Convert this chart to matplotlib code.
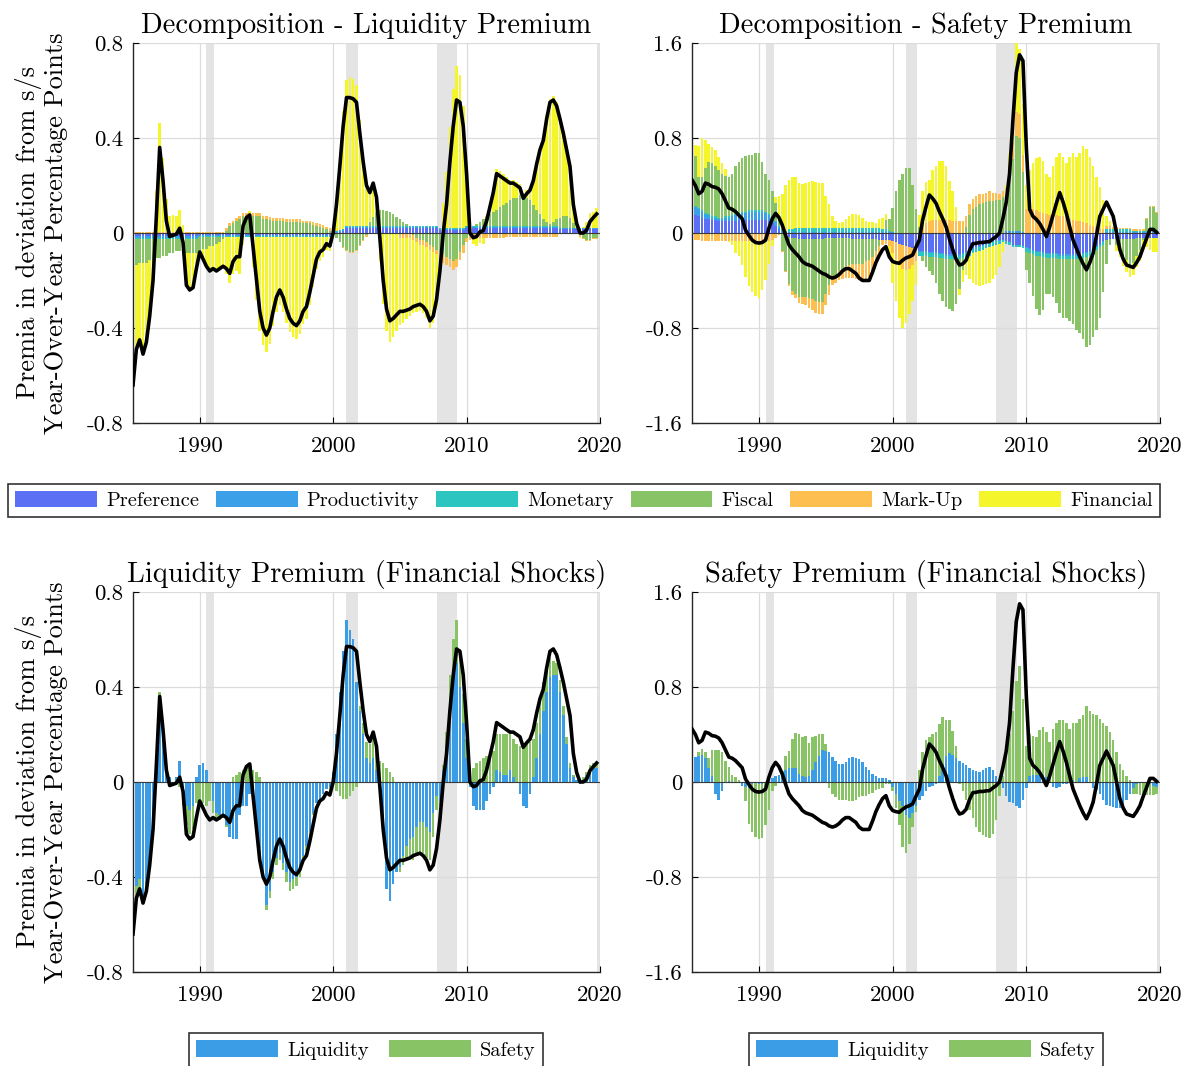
import numpy as np
import matplotlib
matplotlib.use("Agg")
import matplotlib.pyplot as plt
from matplotlib.patches import Patch

plt.rcParams.update({
    "font.family": "serif",
    "font.serif": ["cmr10"],
    "mathtext.fontset": "cm",
    "axes.unicode_minus": False,
})

# quarterly, 1985Q1 .. 2019Q4
dates = 1985 + np.arange(140) / 4

# NBER recessions
rec_start = [1990.5, 2001.0, 2007.75, 2019.8]
rec_end = [1991.1, 2001.85, 2009.3, 2020.2]

# ---------- liquidity premium (total, black line) ----------
liq_total = [
    -0.64, -0.49, -0.45, -0.51, -0.46, -0.35, -0.20, 0.07,
    0.36, 0.22, 0.05, -0.015, -0.01, -0.005, 0.02, -0.04,
    -0.22, -0.24, -0.23, -0.15, -0.08, -0.11, -0.14, -0.16,
    -0.15, -0.16, -0.15, -0.14, -0.15, -0.17, -0.12, -0.10,
    -0.10, 0.03, 0.065, 0.076, -0.06, -0.20, -0.33, -0.40,
    -0.43, -0.40, -0.33, -0.27, -0.24, -0.27, -0.32, -0.36,
    -0.38, -0.39, -0.37, -0.33, -0.31, -0.25, -0.18, -0.11,
    -0.08, -0.07, -0.045, -0.055, 0.0, 0.12, 0.28, 0.45,
    0.57, 0.57, 0.565, 0.55, 0.42, 0.30, 0.20, 0.17,
    0.21, 0.15, -0.02, -0.20, -0.32, -0.37, -0.36, -0.345,
    -0.33, -0.33, -0.325, -0.32, -0.31, -0.305, -0.30, -0.31,
    -0.33, -0.37, -0.35, -0.28, -0.16, 0.0, 0.12, 0.30,
    0.45, 0.56, 0.55, 0.45, 0.25, 0.0, -0.02, -0.015,
    0.005, 0.01, 0.05, 0.11, 0.17, 0.25, 0.24, 0.23,
    0.22, 0.21, 0.21, 0.20, 0.19, 0.146, 0.165, 0.18,
    0.22, 0.29, 0.35, 0.39, 0.48, 0.55, 0.56, 0.535,
    0.48, 0.42, 0.35, 0.28, 0.12, 0.04, 0.0, 0.0,
    0.012, 0.048, 0.065, 0.08,
]

# liquidity premium decomposition
pref_l = [
    -0.012, -0.012, -0.012, -0.012, -0.012, -0.012, -0.012, -0.012,
    -0.012, -0.012, -0.012, -0.012, -0.012, -0.012, -0.012, -0.012,
    -0.012, -0.012, -0.012, -0.012, -0.008, -0.008, -0.008, -0.008,
    -0.008, -0.008, -0.008, -0.008, -0.008, -0.008, -0.008, -0.008,
    -0.008, -0.008, -0.008, -0.008, -0.008, -0.008, -0.008, -0.008,
    -0.008, -0.008, -0.008, -0.008, -0.008, -0.008, -0.008, -0.008,
    -0.008, -0.008, -0.008, -0.008, -0.008, -0.008, -0.008, -0.008,
    -0.008, -0.008, -0.008, -0.008, -0.005, 0.0, 0.005, 0.01,
    0.02, 0.02, 0.02, 0.02, 0.02, 0.02, 0.02, 0.02,
    0.02, 0.02, 0.02, 0.02, 0.02, 0.02, 0.02, 0.02,
    0.02, 0.02, 0.02, 0.02, 0.02, 0.02, 0.02, 0.02,
    0.02, 0.02, 0.02, 0.02, 0.012, 0.012, 0.012, 0.012,
    0.012, 0.012, 0.012, 0.012, 0.02, 0.02, 0.02, 0.02,
    0.02, 0.02, 0.02, 0.02, 0.02, 0.02, 0.02, 0.02,
    0.02, 0.02, 0.02, 0.02, 0.02, 0.02, 0.02, 0.02,
    0.02, 0.02, 0.02, 0.02, 0.02, 0.02, 0.02, 0.02,
    0.015, 0.015, 0.015, 0.015, 0.015, 0.015, 0.015, 0.015,
    0.015, 0.015, 0.015, 0.015,
]
prod_l = [-0.01] * 20 + [-0.005] * 40 + [0.005] * 80
mon_l = [-0.003] * 60 + [0.003] * 80
fis_l = [
    -0.11, -0.11, -0.10, -0.10, -0.10, -0.09, -0.09, -0.08,
    -0.08, -0.07, -0.07, -0.06, -0.06, -0.05, -0.05, -0.05,
    -0.06, -0.06, -0.06, -0.06, -0.06, -0.05, -0.05, -0.04,
    -0.04, -0.03, -0.02, -0.01, 0.01, 0.03, 0.04, 0.05,
    0.06, 0.07, 0.07, 0.07, 0.07, 0.07, 0.07, 0.06,
    0.06, 0.055, 0.05, 0.05, 0.05, 0.05, 0.045, 0.045,
    0.045, 0.045, 0.045, 0.04, 0.04, 0.04, 0.035, 0.03,
    0.025, 0.02, 0.015, 0.01, 0.0, -0.02, -0.04, -0.06,
    -0.07, -0.08, -0.08, -0.07, -0.05, -0.03, -0.01, 0.02,
    0.04, 0.06, 0.07, 0.07, 0.065, 0.06, 0.05, 0.04,
    0.03, 0.02, 0.01, 0.0, -0.01, -0.02, -0.03, -0.03,
    -0.04, -0.05, -0.06, -0.07, -0.08, -0.09, -0.10, -0.11,
    -0.12, -0.11, -0.08, -0.05, -0.02, -0.01, 0.0, 0.01,
    0.02, 0.03, 0.04, 0.05, 0.06, 0.07, 0.08, 0.09,
    0.10, 0.11, 0.12, 0.12, 0.13, 0.13, 0.12, 0.11,
    0.09, 0.07, 0.05, 0.03, 0.02, 0.01, 0.02, 0.03,
    0.04, 0.05, 0.05, 0.04, 0.02, 0.0, -0.01, -0.02,
    -0.03, -0.03, -0.02, -0.02,
]
mu_l = ([0.005] * 28 + [0.012] * 32 + [0.01, 0.005, 0.0, -0.005]
        + [-0.005] * 16 + [-0.02] * 12 + [-0.035] * 8 + [-0.02] * 12
        + [-0.015] * 16 + [-0.005] * 12)
fin_l = [
    -0.51, -0.36, -0.33, -0.39, -0.34, -0.24, -0.09, 0.17,
    0.46, 0.31, 0.14, 0.065, 0.07, 0.065, 0.09, 0.03,
    -0.14, -0.16, -0.15, -0.07, -0.01, -0.05, -0.08, -0.11,
    -0.10, -0.12, -0.12, -0.12, -0.156, -0.196, -0.156, -0.146,
    -0.156, -0.036, -0.001, 0.01, -0.126, -0.266, -0.396, -0.456,
    -0.486, -0.451, -0.376, -0.316, -0.286, -0.316, -0.361, -0.401,
    -0.421, -0.431, -0.411, -0.366, -0.346, -0.286, -0.211, -0.136,
    -0.101, -0.086, -0.056, -0.061, -0.013, 0.127, 0.307, 0.497,
    0.617, 0.627, 0.622, 0.597, 0.447, 0.307, 0.187, 0.127,
    0.147, 0.067, -0.113, -0.293, -0.408, -0.453, -0.433, -0.408,
    -0.368, -0.358, -0.343, -0.328, -0.308, -0.293, -0.278, -0.288,
    -0.298, -0.328, -0.298, -0.218, -0.065, 0.105, 0.235, 0.425,
    0.585, 0.685, 0.645, 0.515, 0.262, 0.002, -0.028, -0.033,
    -0.023, -0.028, 0.002, 0.052, 0.102, 0.172, 0.152, 0.132,
    0.107, 0.087, 0.077, 0.067, 0.047, 0.003, 0.032, 0.057,
    0.117, 0.207, 0.287, 0.347, 0.447, 0.527, 0.527, 0.492,
    0.422, 0.352, 0.282, 0.222, 0.082, 0.022, -0.008, 0.002,
    0.024, 0.06, 0.067, 0.082,
]

# ---------- safety premium (total, black line) ----------
safe_total = [
    0.446, 0.40, 0.33, 0.35, 0.42, 0.41, 0.39, 0.385,
    0.37, 0.33, 0.27, 0.21, 0.20, 0.18, 0.15, 0.12,
    0.025, -0.02, -0.06, -0.08, -0.085, -0.08, -0.06, 0.04,
    0.12, 0.165, 0.13, 0.067, -0.02, -0.10, -0.14, -0.17,
    -0.20, -0.24, -0.26, -0.27, -0.28, -0.30, -0.32, -0.34,
    -0.35, -0.37, -0.38, -0.37, -0.35, -0.32, -0.30, -0.30,
    -0.32, -0.34, -0.38, -0.40, -0.40, -0.40, -0.33, -0.25,
    -0.19, -0.14, -0.115, -0.20, -0.24, -0.25, -0.255, -0.23,
    -0.21, -0.20, -0.185, -0.12, -0.06, 0.11, 0.22, 0.32,
    0.29, 0.25, 0.18, 0.12, 0.053, -0.05, -0.14, -0.22,
    -0.27, -0.26, -0.23, -0.15, -0.09, -0.087, -0.08, -0.08,
    -0.075, -0.073, -0.05, -0.03, 0.0, 0.12, 0.26, 0.50,
    0.95, 1.35, 1.50, 1.45, 0.73, 0.20, 0.14, 0.115,
    0.08, 0.03, -0.03, 0.05, 0.15, 0.25, 0.34, 0.26,
    0.165, 0.05, -0.06, -0.13, -0.20, -0.26, -0.31, -0.25,
    -0.17, -0.02, 0.14, 0.20, 0.26, 0.20, 0.14, 0.0,
    -0.14, -0.22, -0.27, -0.28, -0.29, -0.25, -0.20, -0.12,
    -0.045, 0.03, 0.03, 0.005,
]

# safety premium decomposition
pref_s = [
    0.15, 0.15, 0.14, 0.13, 0.12, 0.12, 0.11, 0.11,
    0.10, 0.10, 0.10, 0.10, 0.10, 0.10, 0.11, 0.11,
    0.11, 0.11, 0.11, 0.11, 0.11, 0.11, 0.11, 0.10,
    0.08, 0.06, 0.03, 0.00, -0.02, -0.03, -0.04, -0.04,
    -0.05, -0.05, -0.05, -0.05, -0.05, -0.05, -0.05, -0.05,
    -0.04, -0.04, -0.04, -0.04, -0.04, -0.04, -0.04, -0.04,
    -0.05, -0.05, -0.05, -0.05, -0.05, -0.05, -0.05, -0.05,
    -0.06, -0.06, -0.06, -0.06, -0.07, -0.08, -0.09, -0.10,
    -0.11, -0.12, -0.13, -0.14, -0.15, -0.15, -0.15, -0.16,
    -0.16, -0.16, -0.17, -0.17, -0.18, -0.18, -0.18, -0.18,
    -0.18, -0.17, -0.16, -0.15, -0.13, -0.12, -0.11, -0.10,
    -0.09, -0.08, -0.07, -0.06, -0.06, -0.06, -0.07, -0.08,
    -0.10, -0.10, -0.10, -0.11, -0.12, -0.13, -0.14, -0.15,
    -0.15, -0.16, -0.17, -0.17, -0.17, -0.17, -0.18, -0.18,
    -0.18, -0.18, -0.18, -0.18, -0.18, -0.17, -0.16, -0.15,
    -0.13, -0.11, -0.09, -0.07, -0.06, -0.05, -0.05, -0.05,
    -0.05, -0.05, -0.05, -0.05, -0.05, -0.04, -0.04, -0.04,
    -0.04, -0.04, -0.04, -0.04,
]
prod_s = [
    0.08, 0.07, 0.06, 0.05, 0.04, 0.03, 0.02, 0.02,
    0.02, 0.02, 0.03, 0.03, 0.04, 0.05, 0.05, 0.06,
    0.06, 0.07, 0.07, 0.07, 0.07, 0.07, 0.06, 0.05,
    0.04, 0.03, 0.02, 0.02, 0.01, 0.01, 0.01, 0.01,
    0.01, 0.01, 0.01, 0.01, 0.01, 0.01, 0.01, 0.01,
    0.01, 0.01, 0.01, 0.01, 0.01, 0.01, 0.01, 0.01,
    0.01, 0.01, 0.01, 0.01, 0.01, 0.01, 0.01, 0.01,
    0.01, 0.01, 0.01, 0.01, 0.01, 0.0, 0.0, 0.0,
    0.0, 0.0, 0.0, 0.0, -0.01, -0.01, -0.01, -0.01,
    -0.01, -0.01, -0.01, -0.01, -0.01, -0.01, -0.01, -0.01,
    -0.01, -0.01, -0.01, -0.01, -0.01, -0.01, -0.01, -0.01,
    -0.01, -0.01, -0.01, -0.01, -0.01, 0.0, 0.02, 0.02,
    0.02, 0.02, 0.02, 0.01, -0.01, -0.01, -0.01, -0.01,
    -0.01, -0.01, -0.01, -0.01, -0.01, -0.01, -0.01, -0.01,
    -0.01, -0.01, -0.01, -0.01, -0.01, -0.01, -0.01, -0.01,
    -0.01, -0.01, -0.01, -0.01, 0.01, 0.01, 0.01, 0.01,
    0.01, 0.01, 0.01, 0.01, 0.01, 0.01, 0.01, 0.01,
    0.01, 0.01, 0.01, 0.01,
]
mon_s = [
    0.01, 0.01, 0.01, 0.01, 0.01, 0.01, 0.01, 0.01,
    0.01, 0.01, 0.01, 0.01, 0.01, 0.01, 0.01, 0.01,
    0.01, 0.01, 0.01, 0.01, 0.01, 0.01, 0.01, 0.01,
    0.01, 0.01, 0.01, 0.01, 0.01, 0.02, 0.02, 0.03,
    0.03, 0.03, 0.03, 0.03, 0.03, 0.03, 0.03, 0.03,
    0.03, 0.03, 0.03, 0.03, 0.03, 0.03, 0.03, 0.03,
    0.03, 0.03, 0.03, 0.03, 0.03, 0.03, 0.03, 0.03,
    0.03, 0.02, 0.02, 0.01, 0.0, 0.0, 0.0, 0.0,
    0.0, 0.0, 0.0, 0.0, -0.03, -0.03, -0.03, -0.03,
    -0.03, -0.03, -0.03, -0.03, -0.03, -0.03, -0.03, -0.03,
    -0.03, -0.03, -0.03, -0.03, -0.03, -0.03, -0.03, -0.03,
    -0.03, -0.03, -0.03, -0.03, -0.02, -0.02, -0.02, -0.02,
    -0.02, -0.02, -0.02, -0.02, -0.03, -0.03, -0.03, -0.03,
    -0.03, -0.03, -0.03, -0.03, -0.03, -0.03, -0.03, -0.03,
    -0.03, -0.03, -0.03, -0.03, -0.03, -0.03, -0.03, -0.03,
    -0.02, -0.02, -0.02, -0.02, 0.02, 0.02, 0.02, 0.02,
    0.02, 0.02, 0.02, 0.02, 0.01, 0.01, 0.01, 0.01,
    0.01, 0.01, 0.01, 0.01,
]
fis_s = [
    0.54, 0.42, 0.26, 0.28, 0.38, 0.44, 0.45, 0.42,
    0.40, 0.37, 0.34, 0.33, 0.35, 0.40, 0.43, 0.45,
    0.47, 0.47, 0.47, 0.48, 0.48, 0.41, 0.32, 0.29,
    0.22, 0.15, 0.05, -0.15, -0.30, -0.40, -0.45, -0.47,
    -0.49, -0.49, -0.49, -0.50, -0.51, -0.52, -0.53, -0.53,
    -0.47, -0.40, -0.33, -0.31, -0.28, -0.26, -0.24, -0.23,
    -0.21, -0.21, -0.21, -0.21, -0.19, -0.18, -0.15, -0.10,
    -0.05, 0.0, 0.08, 0.10, 0.20, 0.35, 0.45, 0.50,
    0.55, 0.55, 0.40, 0.20, 0.05, -0.05, -0.10, -0.12,
    -0.15, -0.22, -0.30, -0.36, -0.40, -0.42, -0.44, -0.38,
    -0.25, -0.10, 0.05, 0.15, 0.20, 0.22, 0.24, 0.25,
    0.26, 0.27, 0.27, 0.28, 0.28, 0.30, 0.30, 0.45,
    0.60, 0.80, 0.78, 0.50, -0.15, -0.25, -0.35, -0.45,
    -0.50, -0.45, -0.30, -0.30, -0.33, -0.38, -0.45, -0.50,
    -0.50, -0.52, -0.55, -0.60, -0.62, -0.68, -0.76, -0.75,
    -0.72, -0.68, -0.60, -0.40, -0.20, -0.05, 0.0, -0.05,
    -0.10, -0.15, -0.18, -0.22, -0.20, -0.15, -0.10, -0.02,
    0.10, 0.20, 0.20, 0.15,
]
mu_s = [
    -0.06, -0.06, -0.06, -0.07, -0.07, -0.07, -0.07, -0.07,
    -0.07, -0.07, -0.07, -0.07, -0.07, -0.07, -0.07, -0.07,
    -0.07, -0.07, -0.07, -0.07, -0.07, -0.07, -0.07, -0.07,
    -0.06, -0.04, -0.02, -0.01, -0.01, -0.02, -0.03, -0.04,
    -0.05, -0.06, -0.07, -0.08, -0.09, -0.10, -0.10, -0.10,
    -0.10, -0.08, -0.07, -0.07, -0.08, -0.09, -0.10, -0.11,
    -0.12, -0.13, -0.14, -0.15, -0.15, -0.14, -0.13, -0.11,
    -0.06, -0.04, -0.03, -0.05, -0.10, -0.14, -0.18, -0.20,
    -0.20, -0.18, -0.14, -0.10, 0.0, 0.05, 0.08, 0.10,
    0.11, 0.11, 0.11, 0.11, 0.11, 0.11, 0.10, 0.10,
    0.10, 0.10, 0.09, 0.09, 0.09, 0.09, 0.09, 0.08,
    0.08, 0.08, 0.07, 0.06, 0.05, 0.05, 0.06, 0.10,
    0.15, 0.20, 0.20, 0.15, 0.20, 0.20, 0.20, 0.19,
    0.18, 0.17, 0.16, 0.15, 0.15, 0.15, 0.14, 0.14,
    0.13, 0.12, 0.11, 0.10, 0.10, 0.09, 0.08, 0.07,
    0.06, 0.05, 0.04, 0.03, 0.03, 0.03, 0.02, 0.02,
    0.01, 0.01, 0.01, 0.01, 0.01, 0.01, 0.01, 0.01,
    0.01, 0.01, 0.01, 0.01,
]
fin_s = [
    0.04, 0.09, 0.26, 0.33, 0.23, 0.15, 0.13, 0.14,
    0.11, 0.09, 0.06, -0.01, -0.03, -0.10, -0.12, -0.20,
    -0.30, -0.38, -0.43, -0.46, -0.48, -0.41, -0.33, -0.19,
    -0.05, 0.05, 0.20, 0.30, 0.38, 0.42, 0.44, 0.43,
    0.38, 0.37, 0.38, 0.39, 0.40, 0.39, 0.38, 0.38,
    0.27, 0.20, 0.10, 0.06, 0.04, 0.05, 0.08, 0.10,
    0.12, 0.12, 0.11, 0.09, 0.06, 0.05, 0.05, 0.04,
    0.08, 0.10, 0.05, -0.10, -0.25, -0.35, -0.45, -0.50,
    -0.45, -0.38, -0.30, -0.20, 0.10, 0.30, 0.35, 0.35,
    0.42, 0.45, 0.50, 0.50, 0.45, 0.33, 0.25, 0.12,
    -0.05, -0.10, -0.15, -0.20, -0.25, -0.28, -0.30, -0.30,
    -0.30, -0.30, -0.28, -0.25, -0.20, -0.08, 0.02, 0.10,
    0.23, 0.58, 0.55, 0.43, 0.20, 0.33, 0.39, 0.44,
    0.46, 0.44, 0.34, 0.32, 0.41, 0.49, 0.53, 0.50,
    0.46, 0.52, 0.56, 0.54, 0.57, 0.64, 0.63, 0.57,
    0.50, 0.42, 0.35, 0.25, 0.08, 0.04, 0.00, -0.05,
    -0.05, -0.08, -0.10, -0.10, -0.10, -0.10, -0.10, -0.08,
    -0.08, -0.10, -0.12, -0.12,
]

# ---------- financial shocks split: liquidity vs safety ----------
lq_l = [
    -0.56, -0.44, -0.41, -0.48, -0.43, -0.33, -0.18, 0.07,
    0.30, 0.20, 0.04, 0.02, 0.0, 0.02, 0.09, -0.05,
    -0.10, -0.12, -0.10, 0.02, 0.07, 0.08, 0.05, 0.0,
    -0.08, -0.13, -0.14, -0.14, -0.18, -0.23, -0.24, -0.24,
    -0.14, -0.10, -0.10, -0.05, -0.05, -0.21, -0.32, -0.41,
    -0.52, -0.46, -0.38, -0.32, -0.30, -0.34, -0.38, -0.42,
    -0.41, -0.40, -0.37, -0.31, -0.27, -0.21, -0.13, -0.09,
    -0.07, -0.05, -0.03, -0.02, 0.04, 0.20, 0.38, 0.55,
    0.68, 0.64, 0.60, 0.42, 0.30, 0.20, 0.10, 0.08,
    0.10, 0.05, -0.05, -0.20, -0.45, -0.50, -0.43, -0.38,
    -0.36, -0.31, -0.27, -0.24, -0.23, -0.19, -0.17, -0.17,
    -0.19, -0.21, -0.13, -0.06, -0.08, 0.05, 0.15, 0.35,
    0.45, 0.50, 0.40, 0.25, 0.10, -0.02, -0.10, -0.12,
    -0.12, -0.12, -0.08, -0.05, -0.02, 0.05, 0.04, 0.03,
    0.03, 0.05, 0.02, 0.0, -0.05, -0.10, -0.11, -0.05,
    0.02, 0.10, 0.20, 0.30, 0.38, 0.44, 0.45, 0.45,
    0.38, 0.28, 0.16, 0.06, 0.02, 0.01, -0.01, 0.01,
    0.03, 0.05, 0.06, 0.06,
]
sg_l = [
    -0.08, -0.05, -0.04, -0.03, -0.03, -0.02, -0.02, 0.0,
    0.08, 0.02, 0.0, 0.0, 0.0, 0.0, -0.02, -0.05,
    -0.08, -0.10, -0.10, -0.09, -0.08, -0.09, -0.10, -0.08,
    -0.05, -0.03, -0.02, -0.01, -0.01, 0.0, 0.02, 0.03,
    0.04, 0.05, 0.06, 0.06, 0.05, 0.04, 0.02, 0.0,
    -0.02, -0.03, -0.03, -0.03, -0.03, -0.03, -0.04, -0.04,
    -0.04, -0.04, -0.03, -0.03, -0.02, -0.02, -0.01, 0.0,
    0.0, 0.0, 0.0, -0.01, -0.02, -0.04, -0.06, -0.07,
    -0.07, -0.06, -0.04, -0.02, 0.02, 0.05, 0.07, 0.08,
    0.10, 0.10, 0.09, 0.08, 0.06, 0.04, 0.02, 0.0,
    -0.02, -0.04, -0.06, -0.08, -0.10, -0.12, -0.13, -0.13,
    -0.13, -0.12, -0.10, -0.06, -0.02, 0.02, 0.06, 0.10,
    0.15, 0.18, 0.16, 0.12, 0.08, 0.05, 0.06, 0.08,
    0.09, 0.10, 0.11, 0.12, 0.13, 0.15, 0.16, 0.17,
    0.17, 0.16, 0.16, 0.16, 0.15, 0.15, 0.16, 0.17,
    0.16, 0.15, 0.14, 0.12, 0.10, 0.08, 0.06, 0.05,
    0.05, 0.04, 0.03, 0.02, 0.01, 0.0, 0.0, 0.01,
    0.01, 0.02, 0.02, 0.02,
]
lq_s = [
    0.24, 0.21, 0.22, 0.23, 0.20, 0.12, 0.05, -0.10,
    -0.15, -0.08, 0.0, 0.01, 0.0, 0.0, -0.01, -0.03,
    -0.04, -0.05, -0.02, 0.0, -0.02, -0.02, -0.01, 0.01,
    0.03, 0.05, 0.06, 0.07, 0.10, 0.12, 0.12, 0.12,
    0.07, 0.05, 0.04, 0.05, 0.10, 0.17, 0.22, 0.27,
    0.26, 0.25, 0.21, 0.18, 0.15, 0.15, 0.17, 0.20,
    0.21, 0.20, 0.19, 0.17, 0.13, 0.10, 0.07, 0.05,
    0.03, 0.03, 0.03, 0.02, -0.04, -0.10, -0.16, -0.20,
    -0.28, -0.30, -0.26, -0.20, -0.15, -0.12, -0.08, -0.04,
    -0.03, -0.02, 0.05, 0.15, 0.22, 0.24, 0.23, 0.20,
    0.18, 0.16, 0.14, 0.12, 0.10, 0.09, 0.08, 0.10,
    0.12, 0.13, 0.10, 0.05, -0.02, -0.05, -0.12, -0.17,
    -0.18, -0.20, -0.22, -0.15, -0.05, 0.05, 0.06, 0.06,
    0.06, 0.06, 0.04, 0.0, -0.04, -0.05, -0.04, -0.02,
    -0.02, 0.0, 0.02, 0.0, 0.03, 0.04, 0.04, 0.0,
    -0.05, -0.07, -0.10, -0.15, -0.19, -0.20, -0.21, -0.22,
    -0.22, -0.20, -0.15, -0.10, -0.05, -0.02, -0.01, -0.01,
    -0.01, -0.02, -0.03, -0.04,
]
sg_s = [
    -0.20, 0.0, 0.03, 0.05, 0.05, 0.08, 0.22, 0.27,
    0.27, 0.25, 0.18, 0.12, 0.06, 0.04, 0.02, 0.0,
    -0.12, -0.30, -0.40, -0.46, -0.46, -0.45, -0.35, -0.24,
    -0.08, -0.03, 0.0, 0.02, 0.12, 0.14, 0.24, 0.29,
    0.33, 0.33, 0.35, 0.28, 0.28, 0.22, 0.18, 0.13,
    0.06, -0.05, -0.10, -0.13, -0.15, -0.15, -0.15, -0.16,
    -0.16, -0.15, -0.13, -0.12, -0.12, -0.10, -0.09, -0.07,
    -0.06, -0.05, -0.02, -0.02, -0.04, -0.12, -0.20, -0.35,
    -0.32, -0.22, -0.12, -0.05, 0.10, 0.25, 0.35, 0.38,
    0.40, 0.42, 0.44, 0.40, 0.30, 0.28, 0.20, 0.10,
    -0.02, -0.08, -0.15, -0.24, -0.30, -0.38, -0.42, -0.45,
    -0.46, -0.47, -0.44, -0.32, -0.10, 0.05, 0.25, 0.40,
    0.60, 0.85, 0.98, 0.70, 0.30, 0.35, 0.33, 0.32,
    0.38, 0.40, 0.38, 0.34, 0.45, 0.50, 0.52, 0.52,
    0.50, 0.45, 0.48, 0.50, 0.50, 0.52, 0.60, 0.60,
    0.57, 0.56, 0.53, 0.50, 0.47, 0.42, 0.35, 0.25,
    0.15, 0.10, 0.05, 0.02, -0.05, -0.08, -0.10, -0.10,
    -0.10, -0.09, -0.08, -0.06,
]

shock_names = ["Preference", "Productivity", "Monetary", "Fiscal", "Mark-Up", "Financial"]
shock_colors = ["#5b6ff5", "#3ca0e8", "#2cc5c0", "#88c466", "#fdbf50", "#f4f52a"]
split_names = ["Liquidity", "Safety"]
split_colors = ["#3a9de6", "#88c466"]


def stack_bars(ax, parts, colors):
    # matlab-style stacked bars: positives go up, negatives go down
    pos = np.zeros(len(dates))
    neg = np.zeros(len(dates))
    for vals, col in zip(parts, colors):
        v = np.array(vals, dtype=float)
        base = np.where(v >= 0, pos, neg)
        ax.bar(dates, v, width=0.19, bottom=base, color=col, linewidth=0, zorder=2)
        pos += np.clip(v, 0, None)
        neg += np.clip(v, None, 0)


def setup(ax, lim, title):
    for s, e in zip(rec_start, rec_end):
        ax.axvspan(s, e, color="#e4e4e4", lw=0, zorder=0)
    ax.set_xlim(1985, 2020)
    ax.set_ylim(-lim, lim)
    ax.set_xticks([1990, 2000, 2010, 2020])
    yt = [-lim, -lim / 2, 0, lim / 2, lim]
    ax.set_yticks(yt)
    ax.set_yticklabels([f"{v:g}" for v in yt])
    ax.set_axisbelow(True)
    ax.grid(True, color="#dcdcdc", lw=0.9)
    ax.axhline(0, color="#3a3a3a", lw=0.8, zorder=3)
    for side in ["top", "right"]:
        ax.spines[side].set_visible(False)
    for side in ["left", "bottom"]:
        ax.spines[side].set_color("#262626")
        ax.spines[side].set_linewidth(1.0)
    ax.tick_params(direction="in", length=4, width=0.8, labelsize=16.5)
    ax.tick_params(axis="x", pad=10)
    ax.tick_params(axis="y", pad=7)
    ax.set_title(title, fontsize=20.5, pad=7)


fig = plt.figure(figsize=(11.95, 10.66), dpi=100)
ax_tl = fig.add_axes([0.1113, 0.6032, 0.3908, 0.3565])
ax_tr = fig.add_axes([0.5791, 0.6032, 0.3916, 0.3565])
ax_bl = fig.add_axes([0.1113, 0.0882, 0.3908, 0.3565])
ax_br = fig.add_axes([0.5791, 0.0882, 0.3916, 0.3565])

setup(ax_tl, 0.8, "Decomposition - Liquidity Premium")
stack_bars(ax_tl, [pref_l, prod_l, mon_l, fis_l, mu_l, fin_l], shock_colors)
ax_tl.plot(dates, liq_total, color="k", lw=2.6, zorder=5)

setup(ax_tr, 1.6, "Decomposition - Safety Premium")
stack_bars(ax_tr, [pref_s, prod_s, mon_s, fis_s, mu_s, fin_s], shock_colors)
ax_tr.plot(dates, safe_total, color="k", lw=2.6, zorder=5)

setup(ax_bl, 0.8, "Liquidity Premium (Financial Shocks)")
stack_bars(ax_bl, [lq_l, sg_l], split_colors)
ax_bl.plot(dates, liq_total, color="k", lw=2.6, zorder=5)

setup(ax_br, 1.6, "Safety Premium (Financial Shocks)")
stack_bars(ax_br, [lq_s, sg_s], split_colors)
ax_br.plot(dates, safe_total, color="k", lw=2.6, zorder=5)

ylab = "Premia in deviation from s/s\nYear-Over-Year Percentage Points"
for ax in [ax_tl, ax_bl]:
    ax.set_ylabel(ylab, fontsize=19, linespacing=1.1)
    ax.yaxis.set_label_coords(-0.14, 0.5)

# legends
leg_kw = dict(frameon=True, fancybox=False, framealpha=1, edgecolor="#333333",
              fontsize=14.7, handlelength=4.0, handleheight=0.85, handletextpad=0.45,
              borderaxespad=0)
h1 = [Patch(facecolor=c, edgecolor="none") for c in shock_colors]
lg = fig.legend(h1, shock_names, loc="center", ncol=6, mode="expand",
                bbox_to_anchor=(8 / 1195, 1 - 518 / 1066, 1152 / 1195, 35 / 1066),
                borderpad=0.35, **leg_kw)
lg.get_frame().set_linewidth(1.2)

h2 = [Patch(facecolor=c, edgecolor="none") for c in split_colors]
for cx in [366 / 1195, 926 / 1195]:
    lg = fig.legend(h2, split_names, loc="center", ncol=2, columnspacing=1.0,
                    bbox_to_anchor=(cx, 1 - 1050 / 1066), borderpad=0.35, **leg_kw)
    lg.get_frame().set_linewidth(1.2)

fig.savefig("out.png", dpi=100)
